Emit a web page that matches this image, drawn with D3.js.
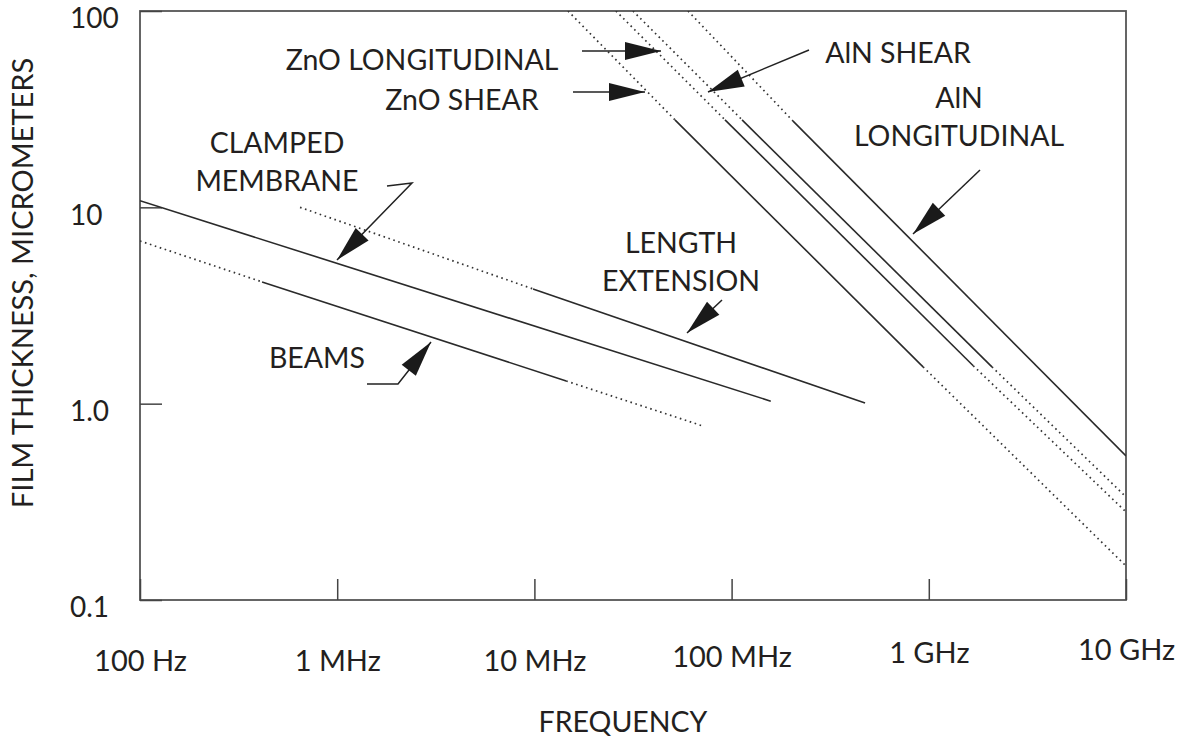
<!DOCTYPE html>
<html>
<head>
<meta charset="utf-8">
<script src="https://cdn.jsdelivr.net/npm/d3@7"></script>
<style>
  body { margin: 0; background: #fff; }
  svg text { font-family: Lato, "Open Sans", sans-serif; fill: #231f20; }
</style>
</head>
<body>
<svg width="1185" height="740"></svg>
<script>
// axis ticks (frequency in Hz, thickness in micrometers) and the labels printed on them
var freqTicks = [1e5, 1e6, 1e7, 1e8, 1e9, 1e10];
var freqLabels = ["100 Hz", "1 MHz", "10 MHz", "100 MHz", "1 GHz", "10 GHz"];
var thickTicks = [0.1, 1, 10, 100];
var thickLabels = ["0.1", "1.0", "10", "100"];

// each segment: [freq0, thick0, freq1, thick1, solid]
// solid = true for the drawn range, false for the dotted extension
var clampedMembrane = [[1e5, 10.8, 1.58e8, 1.03, true]];
var beams = [
    [1e5, 6.74, 4.16e5, 4.17, false],
    [4.16e5, 4.17, 1.45e7, 1.305, true],
    [1.45e7, 1.305, 7.16e7, 0.769, false]];
var lengthExtension = [
    [6.48e5, 10.0, 9.84e6, 3.84, false],
    [9.84e6, 3.84, 4.75e8, 1.008, true]];
var znoShear = [
    [1.48e7, 100, 5.16e7, 27.9, false],
    [5.16e7, 27.9, 9.35e8, 1.54, true],
    [9.35e8, 1.54, 1e10, 0.149, false]];
var znoLongitudinal = [
    [2.59e7, 100, 9.26e7, 27.9, false],
    [9.26e7, 27.9, 1.68e9, 1.56, true],
    [1.68e9, 1.56, 1e10, 0.281, false]];
var alnShear = [
    [3.16e7, 100, 1.13e8, 27.9, false],
    [1.13e8, 27.9, 2.09e9, 1.54, true],
    [2.09e9, 1.54, 1e10, 0.335, false]];
var alnLongitudinal = [
    [6.01e7, 100, 2.05e8, 27.5, false],
    [2.05e8, 27.5, 1e10, 0.542, true]];

var allSeries = [clampedMembrane, beams, lengthExtension, znoShear,
    znoLongitudinal, alnShear, alnLongitudinal];

// callout labels: lines of text, centre x, first baseline
var labels = [
    { lines: ["ZnO LONGITUDINAL"], x: 422, y: 70 },
    { lines: ["ZnO SHEAR"], x: 462, y: 110 },
    { lines: ["AlN SHEAR"], x: 898, y: 63 },
    { lines: ["AlN", "LONGITUDINAL"], x: 959, y: 108 },
    { lines: ["CLAMPED", "MEMBRANE"], x: 277, y: 153 },
    { lines: ["LENGTH", "EXTENSION"], x: 681, y: 253 },
    { lines: ["BEAMS"], x: 317, y: 368 }
];

// arrows: polyline of the shaft, last point is the tip
var arrows = [
    [[582, 51], [661, 51]],
    [[573, 92], [645, 92]],
    [[809, 50], [708, 92]],
    [[980, 170], [913, 234]],
    [[387, 186], [412, 183], [337, 260]],
    [[367, 384], [398, 384], [431, 342]],
    [[722, 300], [687, 333]]
];
var xLabelNudge = [0, 0, 0, -4, -8, -11];

var svg = d3.select("svg"),
    width = +svg.attr("width"),
    height = +svg.attr("height");

svg.append("rect").attr("width", width).attr("height", height).attr("fill", "#fff");

var x = d3.scaleLog().domain([1e5, 1e10]).range([140, 1126]);
var y = d3.scaleLog().domain([0.1, 100]).range([600, 11]);

// frame
svg.append("rect")
    .attr("x", x.range()[0])
    .attr("y", y.range()[1])
    .attr("width", x.range()[1] - x.range()[0])
    .attr("height", y.range()[0] - y.range()[1])
    .attr("fill", "none")
    .attr("stroke", "#555")
    .attr("stroke-width", 1.8);

// x axis
var xAxis = d3.axisBottom(x)
    .tickValues(freqTicks)
    .tickSizeInner(-21)
    .tickSizeOuter(0)
    .tickPadding(50)
    .tickFormat(function (d, i) { return freqLabels[i]; });

var gx = svg.append("g")
    .attr("transform", "translate(0," + y.range()[0] + ")")
    .call(xAxis);
gx.select(".domain").remove();
gx.attr("font-size", 29);
gx.selectAll(".tick line").attr("stroke", "#444").attr("stroke-width", 1.5);
gx.selectAll(".tick text")
    .attr("transform", function (d, i) { return "translate(0," + xLabelNudge[i] + ")"; });

// y axis
var yAxis = d3.axisLeft(y)
    .tickValues(thickTicks)
    .tickSizeInner(-22)
    .tickSizeOuter(0)
    .tickFormat(function (d, i) { return thickLabels[i]; });

var gy = svg.append("g")
    .attr("transform", "translate(" + x.range()[0] + ",0)")
    .call(yAxis);
gy.select(".domain").remove();
gy.attr("font-size", 28);
gy.selectAll(".tick line").attr("stroke", "#444").attr("stroke-width", 1.5);
gy.selectAll(".tick text")
    .attr("text-anchor", "start")
    .attr("x", 70 - x.range()[0])
    .attr("dy", "0.6em");

// axis titles
svg.append("text")
    .attr("x", 623)
    .attr("y", 732)
    .attr("text-anchor", "middle")
    .attr("font-size", 28.5)
    .text("FREQUENCY");

svg.append("text")
    .attr("transform", "translate(33,283) rotate(-90)")
    .attr("text-anchor", "middle")
    .attr("font-size", 29)
    .text("FILM THICKNESS, MICROMETERS");

// curves
svg.append("clipPath").attr("id", "plot-clip")
    .append("rect")
    .attr("x", x.range()[0])
    .attr("y", y.range()[1])
    .attr("width", x.range()[1] - x.range()[0])
    .attr("height", y.range()[0] - y.range()[1]);

var segs = [];
allSeries.forEach(function (s) { s.forEach(function (d) { segs.push(d); }); });

svg.append("g")
    .attr("clip-path", "url(#plot-clip)")
    .selectAll("line")
    .data(segs)
    .enter().append("line")
    .attr("x1", function (d) { return x(d[0]); })
    .attr("y1", function (d) { return y(d[1]); })
    .attr("x2", function (d) { return x(d[2]); })
    .attr("y2", function (d) { return y(d[3]); })
    .attr("stroke", function (d) { return d[4] ? "#2a2a2a" : "#333"; })
    .attr("stroke-width", function (d) { return d[4] ? 1.6 : 1.7; })
    .attr("stroke-dasharray", function (d) { return d[4] ? null : "1.6,3.6"; });

// callout text
labels.forEach(function (l) {
    var t = svg.append("text")
        .attr("text-anchor", "middle")
        .attr("font-size", 28.5);
    l.lines.forEach(function (line, i) {
        t.append("tspan")
            .attr("x", l.x)
            .attr("y", l.y + i * 38)
            .text(line);
    });
});

// arrows
function headPoints(from, tip, len, half) {
    var dx = tip[0] - from[0], dy = tip[1] - from[1];
    var n = Math.sqrt(dx * dx + dy * dy);
    var ux = dx / n, uy = dy / n;
    var bx = tip[0] - ux * len, by = tip[1] - uy * len;
    return [tip, [bx - uy * half, by + ux * half], [bx + uy * half, by - ux * half]];
}

var ga = svg.append("g");
arrows.forEach(function (pts) {
    var tip = pts[pts.length - 1], from = pts[pts.length - 2];
    ga.append("path")
        .attr("d", d3.line()(pts))
        .attr("fill", "none")
        .attr("stroke", "#222")
        .attr("stroke-width", 1.5);
    ga.append("polygon")
        .attr("points", headPoints(from, tip, 36, 9).map(function (p) { return p.join(","); }).join(" "))
        .attr("fill", "#1a1a1a");
});
</script>
</body>
</html>
